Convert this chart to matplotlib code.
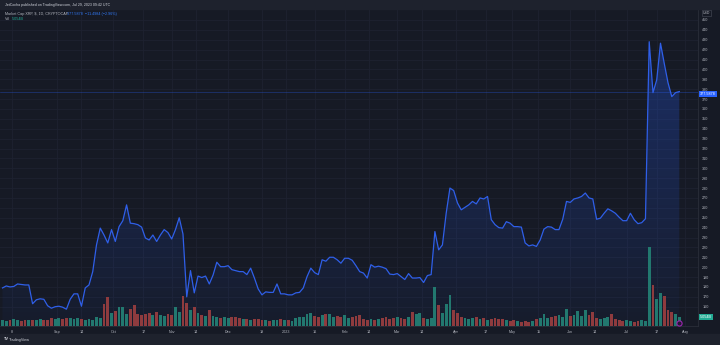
import numpy as np
import pandas as pd
import matplotlib
matplotlib.use('Agg')
import matplotlib.pyplot as plt
import matplotlib.dates as mdates
from matplotlib.colors import LinearSegmentedColormap
from matplotlib.patches import Rectangle

plt.rcParams['font.family'] = ['Liberation Sans', 'DejaVu Sans']

# TradingView dark palette
BG = '#161a25'
PANEL = '#1e222d'
GRID = '#1e2230'
TXT = '#b2b5be'
BLUE = '#2962ff'
LINE = '#2f5fe8'
UP = '#22786f'
DOWN = '#8e3b3e'
FS = 2.7

#? Daily market cap, sampled every second session
dates = pd.date_range('2022-08-03', '2023-07-29', freq='2D')
mcap = [
    179, 181, 180, 180.5, 183, 182.5, 182, 182, 163, 167, 168, 167.5, 161, 158.5, 160, 160.5,
    159.5, 157.5, 167.5, 173, 173, 160.5, 179, 182, 195.5, 222.5, 239.5, 232.5, 224.5, 238, 226, 241,
    247, 263, 244.5, 244, 243, 240.5, 229.5, 227.5, 232.5, 226, 232.5, 238, 235, 228.5, 238, 250,
    233.5, 170, 196.5, 174, 191, 189.5, 191, 183, 192, 205, 200.5, 200.5, 201.5, 197.5, 196.5, 195.5,
    195.5, 192.5, 199, 189, 178, 172, 175, 174.5, 174.5, 183, 173, 173, 172, 172, 174, 174.5,
    179, 190.5, 199, 194.5, 192.5, 207.5, 206, 210, 210, 207.5, 204, 209, 209, 207, 201.5, 195.5,
    194, 189, 202.5, 200, 201, 200, 198.5, 193, 192.5, 193.5, 190.5, 187.5, 193.5, 189, 189, 189.5,
    184.5, 191.5, 192.5, 236, 217.5, 222.5, 254.5, 280, 277.5, 265, 258, 260.5, 263, 266.5, 264, 270,
    269, 271.5, 248, 243, 240, 239.5, 246, 244.5, 241, 241, 240.5, 224.5, 221.5, 222.5, 221, 227.5,
    238.5, 241, 240.5, 238, 238, 248.5, 266.5, 265.5, 269, 270, 271.5, 275, 270, 269, 248.5, 249.5,
    254.5, 259, 257, 254.5, 250.5, 247, 247, 254.5, 248, 244, 245, 249, 428, 376.5, 389.5, 426.5,
    406, 386.5, 372.5, 376.5, 377.5878,
]
# volume in billions
volume = [
    3.3, 2.7, 3.3, 3.8, 3.3, 2.7, 3.3, 3.3, 3.3, 3.3, 3.8, 3.3, 3.3, 4.3, 3.8, 4.3,
    3.8, 4.3, 4.3, 3.8, 4.3, 3.8, 3.3, 3.8, 3.3, 4.9, 4.3, 12.0, 15.8, 7.1, 8.2, 10.3,
    10.3, 6.5, 9.2, 11.4, 6.5, 6.0, 6.5, 7.1, 6.0, 7.6, 6.0, 5.4, 6.5, 6.0, 10.3, 7.6,
    16.3, 12.5, 8.7, 10.3, 7.1, 6.0, 5.4, 8.7, 5.4, 4.9, 4.3, 4.9, 4.3, 4.9, 4.9, 4.3,
    3.8, 3.8, 3.3, 3.8, 3.8, 3.3, 3.3, 2.7, 3.3, 3.3, 3.8, 3.3, 3.3, 2.7, 4.3, 4.9,
    4.9, 6.5, 7.1, 5.4, 4.9, 6.0, 6.5, 6.5, 4.9, 5.4, 4.9, 6.0, 4.3, 4.9, 5.4, 6.0,
    3.8, 3.3, 3.8, 3.3, 3.8, 4.3, 4.9, 3.8, 4.3, 4.9, 4.3, 3.8, 4.9, 7.6, 6.5, 7.1,
    4.3, 3.8, 4.3, 21.2, 11.4, 7.1, 12.0, 16.8, 8.7, 7.1, 4.9, 4.3, 3.8, 4.3, 4.9, 3.8,
    4.3, 3.3, 3.8, 4.3, 3.8, 3.8, 3.3, 2.7, 3.3, 2.7, 2.2, 2.7, 2.2, 2.7, 3.8, 4.3,
    6.5, 4.3, 4.9, 5.4, 6.0, 4.9, 9.2, 5.4, 6.0, 8.2, 5.4, 8.7, 6.0, 7.6, 4.3, 3.8,
    4.3, 4.9, 6.5, 3.8, 3.3, 2.7, 3.3, 2.7, 2.2, 2.7, 3.3, 2.7, 42.9, 22.3, 14.7, 17.9,
    16.3, 8.7, 7.6, 6.5, 5.054,
]

price_ticks = np.arange(160, 451, 10)
time_ticks = ['2022-08-08', '2022-09-01', '2022-09-14', '2022-10-01', '2022-10-17',
              '2022-11-01', '2022-11-14', '2022-12-01', '2022-12-19', '2023-01-01',
              '2023-01-16', '2023-02-01', '2023-02-14', '2023-03-01', '2023-03-14',
              '2023-04-01', '2023-04-17', '2023-05-01', '2023-05-15', '2023-06-01',
              '2023-06-14', '2023-07-01', '2023-07-17', '2023-08-01']
time_labels = ['8', 'Sep', '14', 'Oct', '17', 'Nov', '14', 'Dec', '19', '2023', '16', 'Feb',
               '14', 'Mar', '14', 'Apr', '17', 'May', '15', 'Jun', '14', 'Jul', '17', 'Aug']

W, H = 720, 345
fig = plt.figure(figsize=(W / 100, H / 100), dpi=100, facecolor=BG)


def frac(x0, y0, x1, y1):
    # pixel box measured from the top-left -> figure fraction
    return [x0 / W, 1 - y1 / H, (x1 - x0) / W, (y1 - y0) / H]


def ptext(x, y, s, **kw):
    return fig.text(x / W, 1 - y / H, s, va='center', **kw)


# header / footer strips
fig.patches.append(Rectangle((0, 1 - 9 / H), 1, 9 / H, transform=fig.transFigure, color=PANEL, zorder=0))
fig.patches.append(Rectangle((0, 0), 1, 11 / H, transform=fig.transFigure, color=PANEL, zorder=0))

ax = fig.add_axes(frac(0, 9, 698, 326))
ax.set_facecolor(BG)
ax_vol = fig.add_axes(frac(0, 9, 698, 326), sharex=ax)
ax_vol.patch.set_alpha(0)

x_num = mdates.date2num(dates)
start = x_num[0]
x_lo, x_hi = start - 1.33, start + 369.95
y_lo, y_hi = 140.5, 461.1

#? Area series: line plus a vertical blue gradient under it
ax.plot(dates, mcap, color=LINE, lw=0.9, zorder=3)
cmap = LinearSegmentedColormap.from_list('area', [(0.16, 0.38, 1.0, 0.03), (0.16, 0.38, 1.0, 0.30)])
grad = np.linspace(0, 1, 256).reshape(-1, 1)
img = ax.imshow(grad, extent=[x_lo, x_hi, y_lo, max(mcap)], aspect='auto', cmap=cmap,
                origin='lower', zorder=2)
area = ax.fill_between(dates, mcap, y_lo, color='none')
img.set_clip_path(area.get_paths()[0], transform=ax.transData)

last = mcap[-1]
ax.axhline(last, color=BLUE, lw=0.45, alpha=0.45, zorder=1)

ax.set_xlim(x_lo, x_hi)
ax.set_ylim(y_lo, y_hi)
ax.set_yticks(price_ticks)
ax.yaxis.tick_right()
ax.tick_params(axis='y', length=0, pad=3.0, labelsize=FS, labelcolor=TXT)
ax.set_xticks(mdates.date2num(pd.to_datetime(time_ticks)))
ax.set_xticklabels(time_labels)
ax.tick_params(axis='x', length=0, pad=2.6, labelsize=FS, labelcolor=TXT)
ax.grid(color=GRID, lw=0.6)
ax.set_axisbelow(True)
for side, sp in ax.spines.items():
    sp.set_visible(side in ('right', 'bottom'))
    sp.set_color('#2a2e39')
    sp.set_linewidth(0.6)

#? Volume overlay, coloured by session direction
prev = np.r_[mcap[0], mcap[:-1]]
colors = np.where(np.array(mcap) >= prev, UP, DOWN)
ax_vol.bar(dates, volume, width=1.5, color=colors, linewidth=0, zorder=2)
ax_vol.set_ylim(0, 172.3)
ax_vol.set_xlim(x_lo, x_hi)
ax_vol.axis('off')

# event marker near the last bar
ax_vol.scatter([dates[-1]], [1.8], s=14, facecolor='#241633', edgecolor='#9c27b0',
               linewidth=0.8, zorder=4, clip_on=False)

# last-value labels on the price scale (nudged down so the 380 tick stays readable)
ax.annotate('377.5878', xy=(1.0025, last), xycoords=ax.get_yaxis_transform(),
            xytext=(0, -1.8), textcoords='offset points', fontsize=FS, color='white',
            va='center', ha='left', annotation_clip=False,
            bbox=dict(boxstyle='square,pad=0.25', fc=BLUE, ec='none'))
ax_vol.text(1.0025, volume[-1], '5.054B', transform=ax_vol.get_yaxis_transform(), fontsize=FS,
            color='white', va='center', ha='left', clip_on=False,
            bbox=dict(boxstyle='square,pad=0.3', fc='#22ab94', ec='none'))
ptext(703, 12.8, 'USD', fontsize=2.5, color=TXT,
      bbox=dict(boxstyle='square,pad=0.3', fc=BG, ec='#4a4e5a', lw=0.4))

#? Header and legend
ptext(5, 4.6, 'JetCocha published on TradingView.com, Jul 29, 2023 09:42 UTC', fontsize=2.6,
      color='#d1d4dc')
ptext(5, 13.6, 'Market Cap XRP, $, 1D, CRYPTOCAP', fontsize=FS, color=TXT)
ptext(67, 13.6, '377.5878  \u221211.4984 (\u22122.96%)', fontsize=FS, color='#3179f5')
ptext(5, 18.8, 'Vol', fontsize=FS, color=TXT)
ptext(12, 18.8, '5.054B', fontsize=FS, color='#22ab94')

# footer logo
ptext(3, 339.5, 'TV', fontsize=2.9, color='#d1d4dc', fontweight='bold')
ptext(9, 339.5, 'TradingView', fontsize=2.7, color='#d1d4dc')

fig.savefig('out.png', dpi=100, facecolor=BG)
